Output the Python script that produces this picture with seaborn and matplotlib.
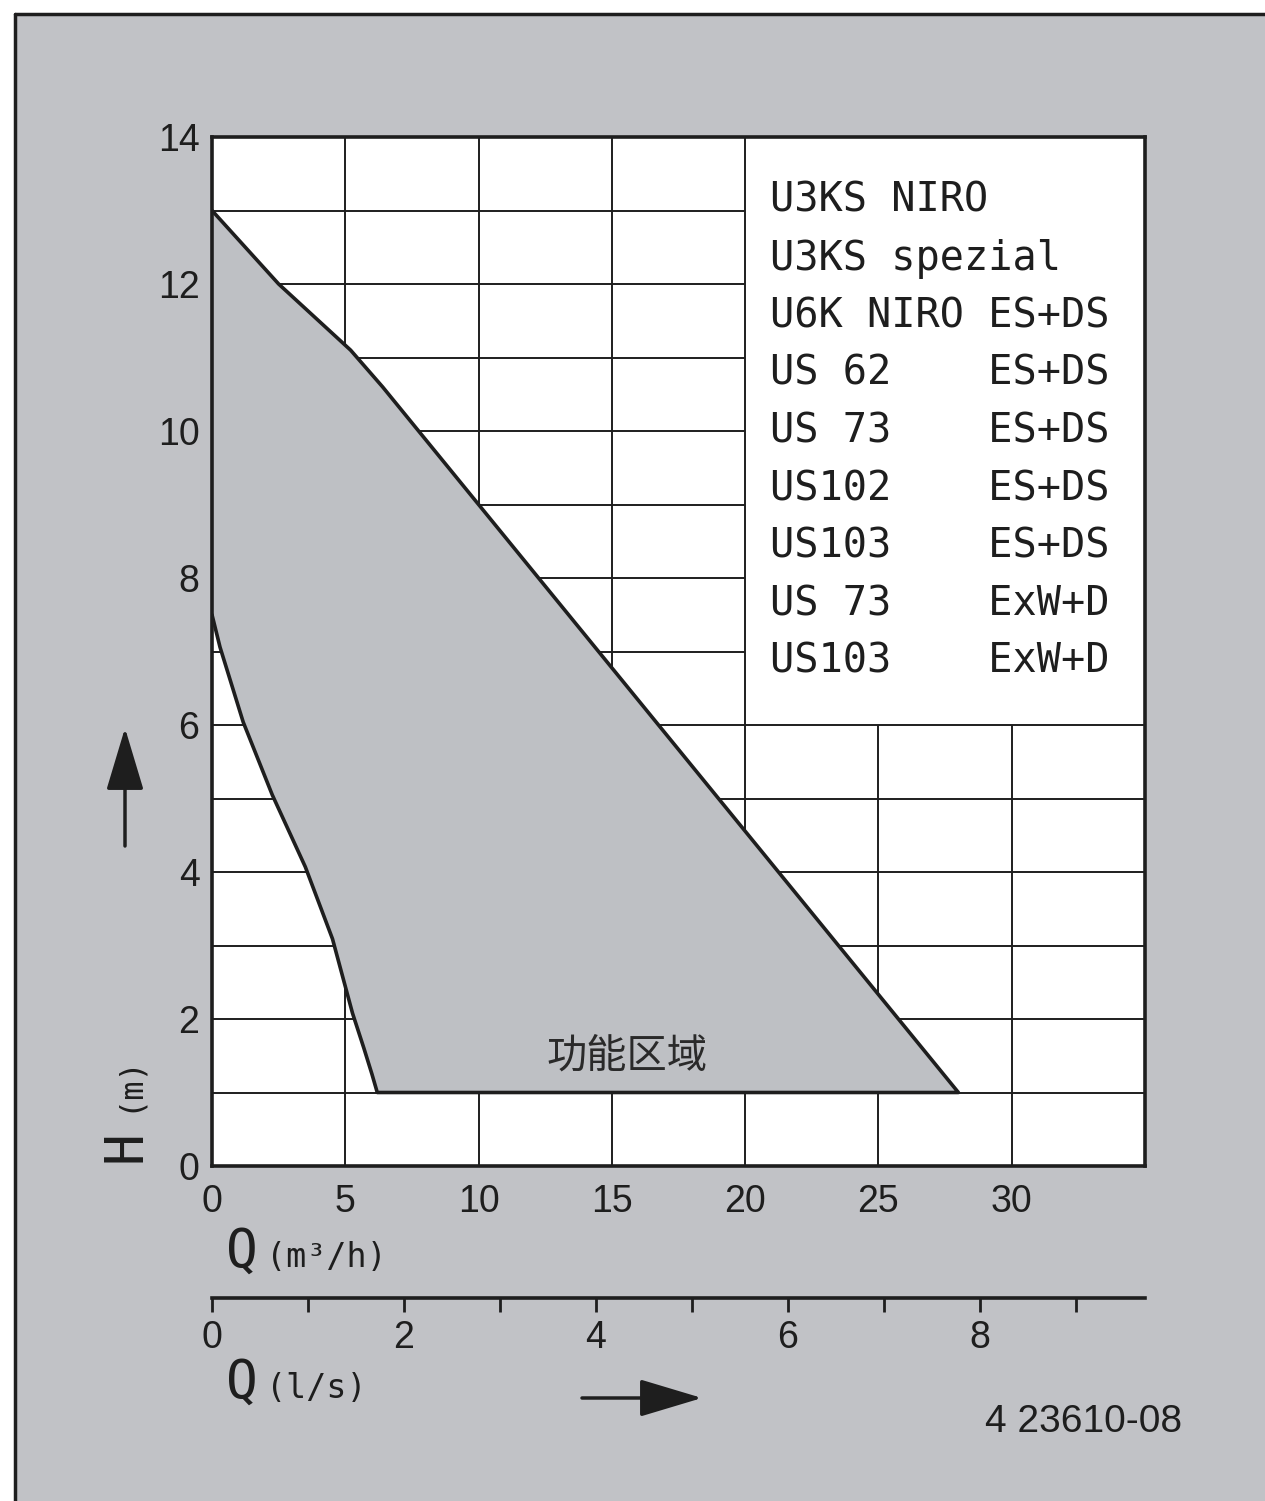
import matplotlib
matplotlib.use('Agg')
import matplotlib.pyplot as plt
import seaborn as sns
from matplotlib.patches import Rectangle
from matplotlib.lines import Line2D

# Working area boundary (Q in m3/h, H in m)
upper_q = [0.0, 2.5, 5.2, 6.4, 28.0]
upper_h = [13.0, 12.0, 11.1, 10.6, 1.0]
lower_q = [0.0, 0.3, 1.17, 2.26, 3.5, 4.52, 5.27, 5.7, 6.0, 6.2]
lower_h = [7.5, 7.06, 6.04, 5.05, 4.07, 3.09, 2.08, 1.6, 1.25, 1.0]

x_ticks = [0, 5, 10, 15, 20, 25, 30]
y_ticks = [0, 2, 4, 6, 8, 10, 12, 14]
ls_ticks = [0, 1, 2, 3, 4, 5, 6, 7, 8, 9]
ls_labels = ['0', '', '2', '', '4', '', '6', '', '8', '']

legend_models = ['U3KS NIRO', 'U3KS spezial', 'U6K NIRO', 'US 62', 'US 73',
                 'US102', 'US103', 'US 73', 'US103']
legend_types = ['', '', 'ES+DS', 'ES+DS', 'ES+DS', 'ES+DS', 'ES+DS', 'ExW+D', 'ExW+D']

area_label = '功能区域'
drawing_no = '4 23610-08'

sns.set_theme(style='white')
plt.rcParams['font.family'] = ['Liberation Sans', 'DejaVu Sans']

bg = '#c1c2c6'
fill_grey = '#bec0c4'
ink = '#1e1e1e'

W, H = 1265, 1501
fig = plt.figure(figsize=(W / 100, H / 100), dpi=100, facecolor='white')

# grey sheet with top/left border
fig.patches.append(Rectangle((15 / W, 0), 1 - 15 / W, 1 - 14 / H, transform=fig.transFigure,
                             facecolor=bg, edgecolor='none', zorder=-10))
fig.add_artist(Line2D([15 / W, 1], [1 - 14 / H, 1 - 14 / H], transform=fig.transFigure, color=ink, lw=2.5))
fig.add_artist(Line2D([15 / W, 15 / W], [0, 1 - 14 / H], transform=fig.transFigure, color=ink, lw=2.5))

ax = fig.add_axes([212 / W, 1 - 1166 / H, (1145 - 212) / W, (1166 - 137) / H])
ax.set_facecolor('white')
ax.set_xlim(0, 35)
ax.set_ylim(0, 14)

# grid, hidden under the legend box (x>20, y>6)
box_x, box_y = 20, 6
for gx in [5, 10, 15, 20, 25, 30]:
    top = 14 if gx <= box_x else box_y
    ax.vlines(gx, 0, top, color=ink, lw=1.4, zorder=0.8)
for gy in range(1, 14):
    right = 35 if gy <= box_y else box_x
    ax.hlines(gy, 0, right, color=ink, lw=1.4, zorder=0.8)

# working area
path_q = lower_q + upper_q[::-1]
path_h = lower_h + upper_h[::-1]
ax.fill(path_q, path_h, color=fill_grey, lw=0, zorder=1)
sns.lineplot(x=path_q, y=path_h, sort=False, estimator=None, color=ink, lw=2.6, ax=ax, zorder=3)
ax.text(15.55, 1.5, area_label, ha='center', va='center', fontsize=29,
        family=['Noto Sans CJK SC', 'DejaVu Sans'], color='#2a2a2a', zorder=4)

# legend text
for i, (m, t) in enumerate(zip(legend_models, legend_types)):
    ax.text(20.95, 12.98 - i * 0.784, m.ljust(9) + t, ha='left', va='baseline',
            fontsize=29, family='DejaVu Sans Mono', color=ink, zorder=4)

for s in ax.spines.values():
    s.set_visible(True)
    s.set_color(ink)
    s.set_linewidth(2.6)
    s.set_zorder(5)

ax.set_xticks(x_ticks)
ax.set_yticks(y_ticks)
ax.set_xticklabels([str(v) for v in x_ticks])
ax.set_yticklabels([str(v) for v in y_ticks])
ax.tick_params(axis='both', length=0, labelsize=27, colors=ink)
ax.tick_params(axis='x', pad=13)
ax.tick_params(axis='y', pad=9)
ax.set_xlabel('')
ax.set_ylabel('')

# second flow axis in l/s
sec = ax.secondary_xaxis(-0.128, functions=(lambda q: q / 3.6, lambda q: q * 3.6))
sec.set_xticks(ls_ticks)
sec.set_xticklabels(ls_labels)
sec.tick_params(axis='x', bottom=True, direction='out', length=10, width=2, pad=6,
                labelsize=27, colors=ink)
sec.spines['bottom'].set_color(ink)
sec.spines['bottom'].set_linewidth(2.6)

# axis captions
mono = 'DejaVu Sans Mono'
fig.text(226 / W, 1 - 1267 / H, 'Q', fontsize=38, family=mono, color=ink, ha='left', va='baseline')
fig.text(266 / W, 1 - 1267 / H, '(m³/h)', fontsize=24, family=mono, color=ink,
         ha='left', va='baseline')
fig.text(226 / W, 1 - 1398 / H, 'Q', fontsize=38, family=mono, color=ink, ha='left', va='baseline')
fig.text(266 / W, 1 - 1398 / H, '(l/s)', fontsize=24, family=mono, color=ink,
         ha='left', va='baseline')
fig.text(126 / W, 1 - 1162 / H, 'H', fontsize=38, family=mono, color=ink, rotation=90,
         ha='center', va='bottom')
fig.text(128 / W, 1 - 1112 / H, '(m)', fontsize=23, family=mono, color=ink,
         rotation=90, ha='center', va='bottom')
fig.text(985 / W, 1 - 1432 / H, drawing_no, fontsize=28, color=ink, ha='left', va='baseline')

# direction arrows
arrow = dict(arrowstyle='-|>,head_length=1.5,head_width=0.45', mutation_scale=26,
             color=ink, lw=2.5, shrinkA=0, shrinkB=0)
ax.annotate('', xy=(125, H - 728), xytext=(125, H - 846), xycoords='figure pixels',
            textcoords='figure pixels', arrowprops=arrow)
ax.annotate('', xy=(702, H - 1398), xytext=(582, H - 1398), xycoords='figure pixels',
            textcoords='figure pixels', arrowprops=arrow)

fig.savefig('out.png', dpi=100, facecolor=fig.get_facecolor())
